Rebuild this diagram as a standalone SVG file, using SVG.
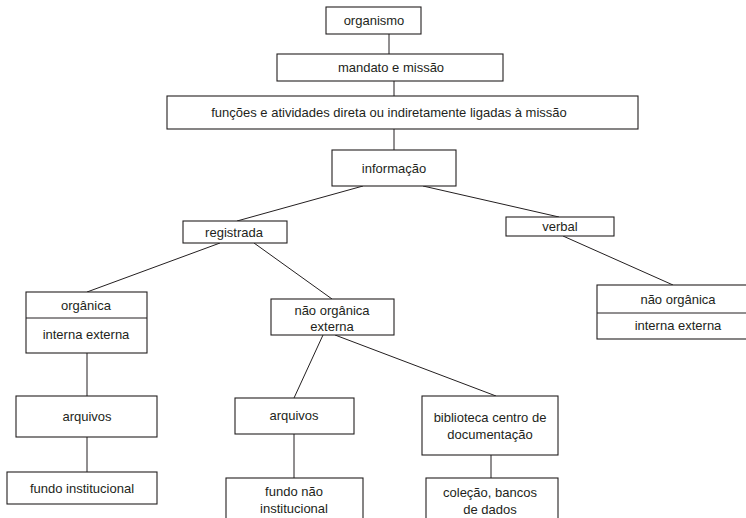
<svg xmlns="http://www.w3.org/2000/svg" width="746" height="518" viewBox="0 0 746 518">
<style>
.box{fill:#fff;stroke:#231f20;stroke-width:1.1}
.ln{stroke:#231f20;stroke-width:1;fill:none}
text{font-family:"Liberation Sans",Arial,sans-serif;font-size:13px;fill:#231f20;text-anchor:middle}
</style>
<rect width="746" height="518" fill="#fff"/>
<g id="connectors">
<line class="ln" x1="389" y1="34" x2="389" y2="54"/>
<line class="ln" x1="394" y1="81" x2="394" y2="96"/>
<line class="ln" x1="394" y1="129" x2="394" y2="150"/>
<line class="ln" x1="363" y1="186" x2="237" y2="221"/>
<line class="ln" x1="423" y1="186" x2="559" y2="217"/>
<line class="ln" x1="220" y1="243" x2="87" y2="292"/>
<line class="ln" x1="254" y1="243" x2="332" y2="299"/>
<line class="ln" x1="563" y1="236" x2="673" y2="285"/>
<line class="ln" x1="87" y1="353" x2="87" y2="396"/>
<line class="ln" x1="87" y1="437" x2="87" y2="472"/>
<line class="ln" x1="323" y1="335" x2="294" y2="398"/>
<line class="ln" x1="335" y1="335" x2="496" y2="396"/>
<line class="ln" x1="294" y1="434" x2="294" y2="478"/>
<line class="ln" x1="491" y1="455" x2="491" y2="478"/>
</g>
<g id="organismo"><rect class="box" x="326" y="7" width="95" height="27"/><text x="374" y="25">organismo</text></g>
<g id="mandato"><rect class="box" x="277" y="54" width="226" height="27"/><text x="391" y="72">mandato e missão</text></g>
<g id="funcoes"><rect class="box" x="167" y="96" width="471" height="33"/><text x="389" y="117">funções e atividades direta ou indiretamente ligadas à missão</text></g>
<g id="informacao"><rect class="box" x="332" y="150" width="124" height="36"/><text x="394" y="173">informação</text></g>
<g id="registrada"><rect class="box" x="183" y="221" width="104" height="22"/><text x="234" y="237">registrada</text></g>
<g id="verbal"><rect class="box" x="506" y="217" width="108" height="19"/><text x="560" y="231">verbal</text></g>
<g id="organica"><rect class="box" x="26" y="292" width="121" height="61"/><line class="ln" x1="26" y1="318" x2="147" y2="318"/><text x="86" y="310">orgânica</text><text x="86" y="339">interna externa</text></g>
<g id="nao-organica-externa"><rect class="box" x="271" y="299" width="123" height="36"/><text x="332" y="315">não orgânica</text><text x="332" y="331">externa</text></g>
<g id="nao-organica-verbal"><rect class="box" x="597" y="285" width="165" height="54"/><line class="ln" x1="597" y1="313" x2="762" y2="313"/><text x="678" y="304">não orgânica</text><text x="678" y="330">interna externa</text></g>
<g id="arquivos-1"><rect class="box" x="16" y="396" width="141" height="41"/><text x="87" y="421">arquivos</text></g>
<g id="fundo-institucional"><rect class="box" x="7" y="472" width="150" height="32"/><text x="82" y="493">fundo institucional</text></g>
<g id="arquivos-2"><rect class="box" x="235" y="398" width="119" height="36"/><text x="294" y="420">arquivos</text></g>
<g id="fundo-nao-institucional"><rect class="box" x="226" y="478" width="137" height="50"/><text x="294" y="496">fundo não</text><text x="294" y="513">institucional</text></g>
<g id="biblioteca"><rect class="box" x="422" y="396" width="136" height="59"/><text x="490" y="422">biblioteca centro de</text><text x="490" y="439">documentação</text></g>
<g id="colecao"><rect class="box" x="426" y="478" width="132" height="50"/><text x="490" y="497">coleção, bancos</text><text x="490" y="514">de dados</text></g>
</svg>
